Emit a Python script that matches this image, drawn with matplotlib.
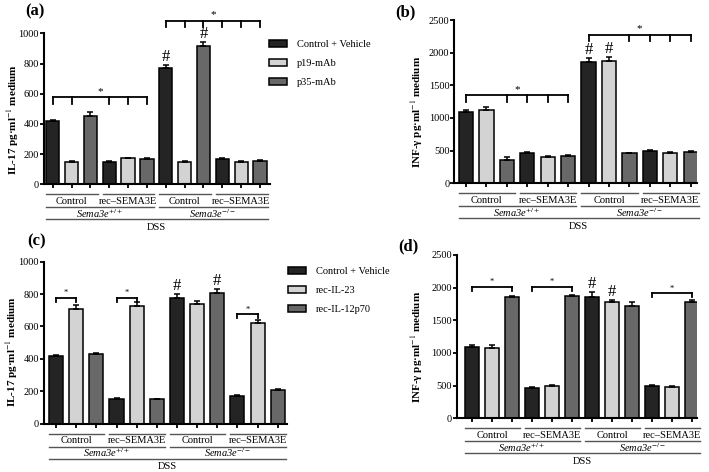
import matplotlib
matplotlib.use('Agg')
import matplotlib.pyplot as plt
import numpy as np
from matplotlib.transforms import blended_transform_factory, offset_copy

plt.rcParams['font.family'] = ['Liberation Serif', 'DejaVu Serif']
plt.rcParams['mathtext.fontset'] = 'stix'

W, H = 709, 472
groups = ['Control', 'rec\u2013SEMA3E', 'Control', 'rec\u2013SEMA3E']
genotypes = ['Sema3e$^{+/+}$', 'Sema3e$^{-/-}$']
colors = ['#242424', '#d3d3d3', '#686868']

# (a) IL-17, antibodies
a_labels = ['Control + Vehicle', 'p19-mAb', 'p35-mAb']
a_vehicle = [420, 150, 773, 168]
a_vehicle_err = [8, 5, 20, 6]
a_p19 = [150, 172, 150, 146]
a_p19_err = [5, 5, 4, 6]
a_p35 = [455, 166, 919, 155]
a_p35_err = [25, 5, 22, 6]
a_brackets = [(0, 5, 575, [0, 1, 3, 4, 5]), (6, 11, 1083, [6, 7, 8, 9, 10, 11])]
a_hash = [6, 8]

# (b) INF-gamma, antibodies
b_vehicle = [1087, 459, 1862, 495]
b_vehicle_err = [40, 15, 60, 20]
b_p19 = [1122, 410, 1872, 469]
b_p19_err = [50, 12, 65, 12]
b_p35 = [357, 418, 459, 485]
b_p35_err = [50, 12, 12, 15]
b_brackets = [(0, 5, 1352, [0, 2, 3, 4, 5]), (6, 11, 2276, [6, 8, 9, 10, 11])]
b_hash = [6, 7]

# (c) IL-17, recombinant cytokines
c_labels = ['Control + Vehicle', 'rec-IL-23', 'rec-IL-12p70']
c_vehicle = [420, 152, 777, 170]
c_vehicle_err = [6, 4, 23, 4]
c_il23 = [705, 728, 738, 620]
c_il23_err = [25, 20, 21, 18]
c_il12 = [427, 150, 805, 205]
c_il12_err = [10, 4, 28, 8]
c_brackets = [(0, 1, 777, [0, 1]), (3, 4, 777, [3, 4]), (9, 10, 674, [9, 10])]
c_hash = [6, 8]

# (d) INF-gamma, recombinant cytokines
d_vehicle = [1087, 464, 1862, 495]
d_vehicle_err = [35, 12, 70, 15]
d_il23 = [1077, 495, 1786, 485]
d_il23_err = [45, 12, 20, 12]
d_il12 = [1852, 1865, 1719, 1780]
d_il12_err = [15, 20, 55, 35]
d_brackets = [(0, 2, 2015, [0, 2]), (3, 5, 2015, [3, 5]), (9, 11, 1913, [9, 11])]
d_hash = [6, 7]

fig = plt.figure(figsize=(W / 100, H / 100), dpi=100)


def px_axes(left, right, bottom, top):
    return fig.add_axes([left / W, 1 - bottom / H, (right - left) / W, (bottom - top) / H])


def panel(ax, series, errs, xlim, ymax, ystep, brackets, drop, hashes, star_fs):
    handles = []
    for t, (vals, err) in enumerate(zip(series, errs)):
        x = np.arange(4) * 3 + t
        b = ax.bar(x, vals, width=0.7, color=colors[t], edgecolor='black', linewidth=1.1,
                   yerr=[np.zeros(4), err], capsize=2.5,
                   error_kw=dict(ecolor='black', elinewidth=1.1, capthick=1.1), zorder=2)
        handles.append(b)
    tops = {}
    for t, (vals, err) in enumerate(zip(series, errs)):
        for g in range(4):
            tops[g * 3 + t] = vals[g] + err[g]
    ax.set_xlim(*xlim)
    ax.set_ylim(0, ymax)
    ax.set_yticks(np.arange(0, ymax + 1, ystep))
    ax.set_xticks(np.arange(12))
    ax.set_xticklabels([])
    for s in ['top', 'right']:
        ax.spines[s].set_visible(False)
    for s in ['left', 'bottom']:
        ax.spines[s].set_linewidth(1.5)
    ax.tick_params(axis='both', direction='out', length=3, width=1.3, labelsize=7.5, pad=0.5)

    for x0, x1, lev, ticks in brackets:
        ax.plot([x0, x1], [lev, lev], color='black', lw=1.3, clip_on=False, zorder=3)
        for tx in ticks:
            ax.plot([tx, tx], [lev, lev - drop], color='black', lw=1.3, clip_on=False, zorder=3)
        ax.text((x0 + x1) / 2, lev + drop * 0.2, '*', ha='center', va='bottom',
                fontsize=star_fs, clip_on=False)
    for hx in hashes:
        ax.text(hx, tops[hx], '#', ha='center', va='bottom', fontsize=12)

    # category rows below the axis
    tr = blended_transform_factory(ax.transData, ax.transAxes)

    def row(dy):
        return offset_copy(tr, fig=fig, x=0, y=-dy, units='dots')
    for g in range(4):
        ax.plot([g * 3 - 0.35, g * 3 + 2.4], [0, 0], color='#555555', lw=1.0,
                transform=row(10), clip_on=False)
        ax.text(g * 3 + 1, 0, groups[g], transform=row(17), ha='center', va='center', fontsize=7.5)
    for k in range(2):
        ax.plot([k * 6 - 0.35, k * 6 + 5.4], [0, 0], color='#555555', lw=1.0,
                transform=row(23), clip_on=False)
        ax.text(k * 6 + 2.5, 0, genotypes[k], transform=row(29), ha='center', va='center',
                fontsize=7.5, style='italic')
    ax.plot([-0.35, 11.4], [0, 0], color='#555555', lw=1.0, transform=row(35), clip_on=False)
    ax.text(5.5, 0, 'DSS', transform=row(43), ha='center', va='center', fontsize=7.5)
    return handles


ax_a = px_axes(44, 270, 184.3, 33.3)
h_a = panel(ax_a, [a_vehicle, a_p19, a_p35], [a_vehicle_err, a_p19_err, a_p35_err],
            (-0.46, 11.53), 1000, 200, a_brackets, 42, a_hash, 8)
ax_b = px_axes(454.3, 697, 183.3, 20)
panel(ax_b, [b_vehicle, b_p19, b_p35], [b_vehicle_err, b_p19_err, b_p35_err],
      (-0.57, 11.31), 2500, 500, b_brackets, 100, b_hash, 8)
ax_c = px_axes(44, 287, 423.5, 261.7)
h_c = panel(ax_c, [c_vehicle, c_il23, c_il12], [c_vehicle_err, c_il23_err, c_il12_err],
            (-0.6, 11.46), 1000, 200, c_brackets, 25, c_hash, 6)
ax_d = px_axes(457, 697, 418.3, 255)
panel(ax_d, [d_vehicle, d_il23, d_il12], [d_vehicle_err, d_il23_err, d_il12_err],
      (-0.75, 11.25), 2500, 500, d_brackets, 60, d_hash, 6)

il17 = 'IL-17 pg\u00b7ml$^{-1}$ medium'
ifng = 'INF-\u03b3 pg\u00b7ml$^{-1}$ medium'
for x, y, s in [(13, 120, il17), (417, 112, ifng), (12, 352, il17), (417, 347, ifng)]:
    fig.text(x / W, 1 - y / H, s, rotation=90, ha='center', va='center',
             fontsize=8, fontweight='bold')

for x, y, s in [(35, 11, '(a)'), (405, 12, '(b)'), (37, 241, '(c)'), (408, 246, '(d)')]:
    fig.text(x / W, 1 - y / H, s, ha='center', va='center', fontsize=12, fontweight='bold')

for handles, labels, left, top in [(h_a, a_labels, 269, 40), (h_c, c_labels, 288, 267)]:
    fig.legend([h.patches[0] for h in handles], labels, loc='upper left',
               bbox_to_anchor=(left / W, 1 - top / H),
               bbox_transform=fig.transFigure, frameon=False, fontsize=7.5,
               borderpad=0, borderaxespad=0, handlelength=1.75, handleheight=0.65,
               handletextpad=0.9, labelspacing=0.95)

fig.savefig('out.png', dpi=100)
